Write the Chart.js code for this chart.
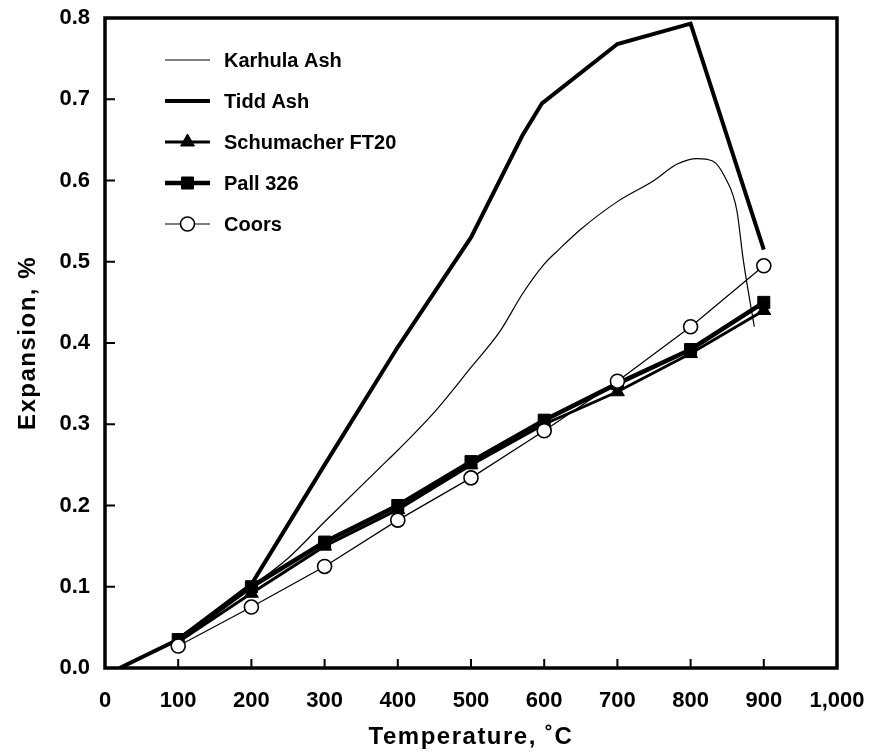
<!DOCTYPE html>
<html><head><meta charset="utf-8">
<script src="https://cdn.jsdelivr.net/npm/chart.js@4/dist/chart.umd.min.js"></script>
<style>html,body{margin:0;padding:0;background:#fff}</style>
</head><body>
<canvas id="c" width="869" height="754"></canvas>
<script>
// ---- data ----
const xTicks = [0, 100, 200, 300, 400, 500, 600, 700, 800, 900, 1000];
const yTicks = [0.0, 0.1, 0.2, 0.3, 0.4, 0.5, 0.6, 0.7, 0.8];

const karhulaX = [20, 100, 150, 200, 250, 300, 376, 400, 450, 500, 540, 570, 600, 620, 650, 700, 750, 781, 809, 830, 847, 863, 872, 887];
const karhulaY = [0.0, 0.035, 0.065, 0.1, 0.135, 0.18, 0.247, 0.268, 0.315, 0.37, 0.415, 0.46, 0.497, 0.515, 0.54, 0.574, 0.6, 0.62, 0.627, 0.624, 0.604, 0.564, 0.502, 0.42];

const tiddX = [20, 100, 200, 300, 400, 500, 570, 597, 700, 800, 900];
const tiddY = [0.0, 0.035, 0.103, 0.25, 0.395, 0.53, 0.655, 0.695, 0.768, 0.793, 0.515];

const tempX = [100, 200, 300, 400, 500, 600, 700, 800, 900];
const schumacherY = [0.032, 0.092, 0.15, 0.195, 0.25, 0.30, 0.34, 0.387, 0.44];
const pallY = [0.035, 0.10, 0.155, 0.20, 0.254, 0.305, 0.35, 0.392, 0.45];
const coorsY = [0.027, 0.075, 0.125, 0.182, 0.234, 0.292, 0.353, 0.42, 0.495];

const seriesNames = ['Karhula Ash', 'Tidd Ash', 'Schumacher FT20', 'Pall 326', 'Coors'];

const FONT = "'Liberation Sans', Arial, Helvetica, sans-serif";
const pts = (xs, ys) => xs.map((x, i) => ({x: x, y: ys[i]}));

const datasets = [
  {label: seriesNames[0], data: pts(karhulaX, karhulaY), borderColor: '#000', borderWidth: 1.2,
   pointRadius: 0, cubicInterpolationMode: 'monotone', order: 5},
  {label: seriesNames[1], data: pts(tiddX, tiddY), borderColor: '#000', borderWidth: 4,
   pointRadius: 0, order: 4},
  {label: seriesNames[2], data: pts(tempX, schumacherY), borderColor: '#000', borderWidth: 3,
   pointStyle: 'triangle', pointRadius: 8, backgroundColor: '#000', pointBorderWidth: 1, order: 3},
  {label: seriesNames[3], data: pts(tempX, pallY), borderColor: '#000', borderWidth: 4.5,
   pointStyle: 'rect', pointRadius: 8.5, backgroundColor: '#000', pointBorderWidth: 1, order: 2},
  {label: seriesNames[4], data: pts(tempX, coorsY), borderColor: '#000', borderWidth: 1.2,
   pointStyle: 'circle', pointRadius: 7, backgroundColor: '#fff', pointBorderWidth: 1.6, order: 1}
];
datasets.forEach(d => { d.showLine = true; d.fill = false; d.tension = 0; d.pointHoverRadius = d.pointRadius; });

// box + inward ticks
const boxPlugin = {
  id: 'box',
  afterDatasetsDraw(chart) {
    const {ctx, chartArea: a, scales} = chart;
    ctx.save();
    ctx.strokeStyle = '#000';
    ctx.lineWidth = 2;
    xTicks.forEach(v => {
      if (v === 0 || v === 1000) return;
      const px = scales.x.getPixelForValue(v);
      ctx.beginPath(); ctx.moveTo(px, a.bottom); ctx.lineTo(px, a.bottom - 9); ctx.stroke();
    });
    yTicks.forEach(v => {
      if (v === 0 || v === 0.8) return;
      const py = scales.y.getPixelForValue(v);
      ctx.beginPath(); ctx.moveTo(a.left, py); ctx.lineTo(a.left + 10, py); ctx.stroke();
    });
    ctx.lineWidth = 3.5;
    ctx.strokeRect(a.left, a.top, a.right - a.left, a.bottom - a.top);
    ctx.restore();
  }
};

// legend inside plot, line + marker samples
const legendPlugin = {
  id: 'inLegend',
  afterDraw(chart) {
    const {ctx} = chart;
    const rows = [60, 101, 142, 183, 224];
    const x0 = 165, x1 = 210, tx = 224;
    ctx.save();
    chart.data.datasets.forEach((d, i) => {
      const y = rows[i];
      ctx.strokeStyle = '#000';
      ctx.lineWidth = d.borderWidth;
      ctx.beginPath(); ctx.moveTo(x0, y); ctx.lineTo(x1, y); ctx.stroke();
      if (d.pointRadius > 0) {
        ctx.fillStyle = d.backgroundColor;
        ctx.lineWidth = d.pointBorderWidth;
        Chart.helpers.drawPoint(ctx, {pointStyle: d.pointStyle, radius: d.pointRadius, rotation: 0,
          borderWidth: d.pointBorderWidth}, (x0 + x1) / 2, y);
      }
      ctx.fillStyle = '#000';
      ctx.font = 'bold 20px ' + FONT;
      ctx.textBaseline = 'middle';
      ctx.textAlign = 'left';
      ctx.fillText(d.label, tx, y + 1);
    });
    ctx.restore();
  }
};

// slightly wider letter spacing for the axis titles only
function spacedTitle(s, spacing) {
  if (s._spaced) return;
  const orig = s.drawTitle.bind(s);
  s.drawTitle = function () {
    const ctx = this.ctx;
    ctx.save();
    try { ctx.letterSpacing = spacing; } catch (e) {}
    orig();
    ctx.restore();
  };
  s._spaced = true;
}

new Chart(document.getElementById('c'), {
  type: 'scatter',
  data: {datasets},
  options: {
    responsive: false,
    animation: false,
    devicePixelRatio: 1,
    layout: {padding: {left: 0, right: 32, top: 18, bottom: 0}},
    plugins: {legend: {display: false}, tooltip: {enabled: false}},
    scales: {
      x: {
        type: 'linear', min: 0, max: 1000,
        afterBuildTicks: s => { s.ticks = xTicks.map(v => ({value: v})); },
        afterFit: s => { s.height = 86; s.paddingLeft = 0; s.paddingRight = 0; spacedTitle(s, '1.5px'); },
        grid: {display: false, drawTicks: false},
        border: {display: false},
        ticks: {color: '#000', padding: 20, maxRotation: 0, autoSkip: false,
          font: {family: FONT, size: 22, weight: 'bold'},
          callback: v => v.toLocaleString('en-US')},
        title: {display: true, text: 'Temperature, ˚C', color: '#000',
          font: {family: FONT, size: 24, weight: 'bold'}, padding: {top: 0, bottom: 2}}
      },
      y: {
        type: 'linear', min: 0, max: 0.8,
        afterBuildTicks: s => { s.ticks = yTicks.map(v => ({value: v})); },
        afterFit: s => { s.width = 105; s.paddingTop = 0; s.paddingBottom = 0; spacedTitle(s, '1.5px'); },
        grid: {display: false, drawTicks: false},
        border: {display: false},
        ticks: {color: '#000', padding: 15, autoSkip: false,
          font: {family: FONT, size: 22, weight: 'bold'},
          callback: v => Number(v).toFixed(1)},
        title: {display: true, text: 'Expansion, %', color: '#000',
          font: {family: FONT, size: 24, weight: 'bold'}, padding: {top: 14, bottom: 0}}
      }
    }
  },
  plugins: [boxPlugin, legendPlugin]
});
</script>
</body></html>
